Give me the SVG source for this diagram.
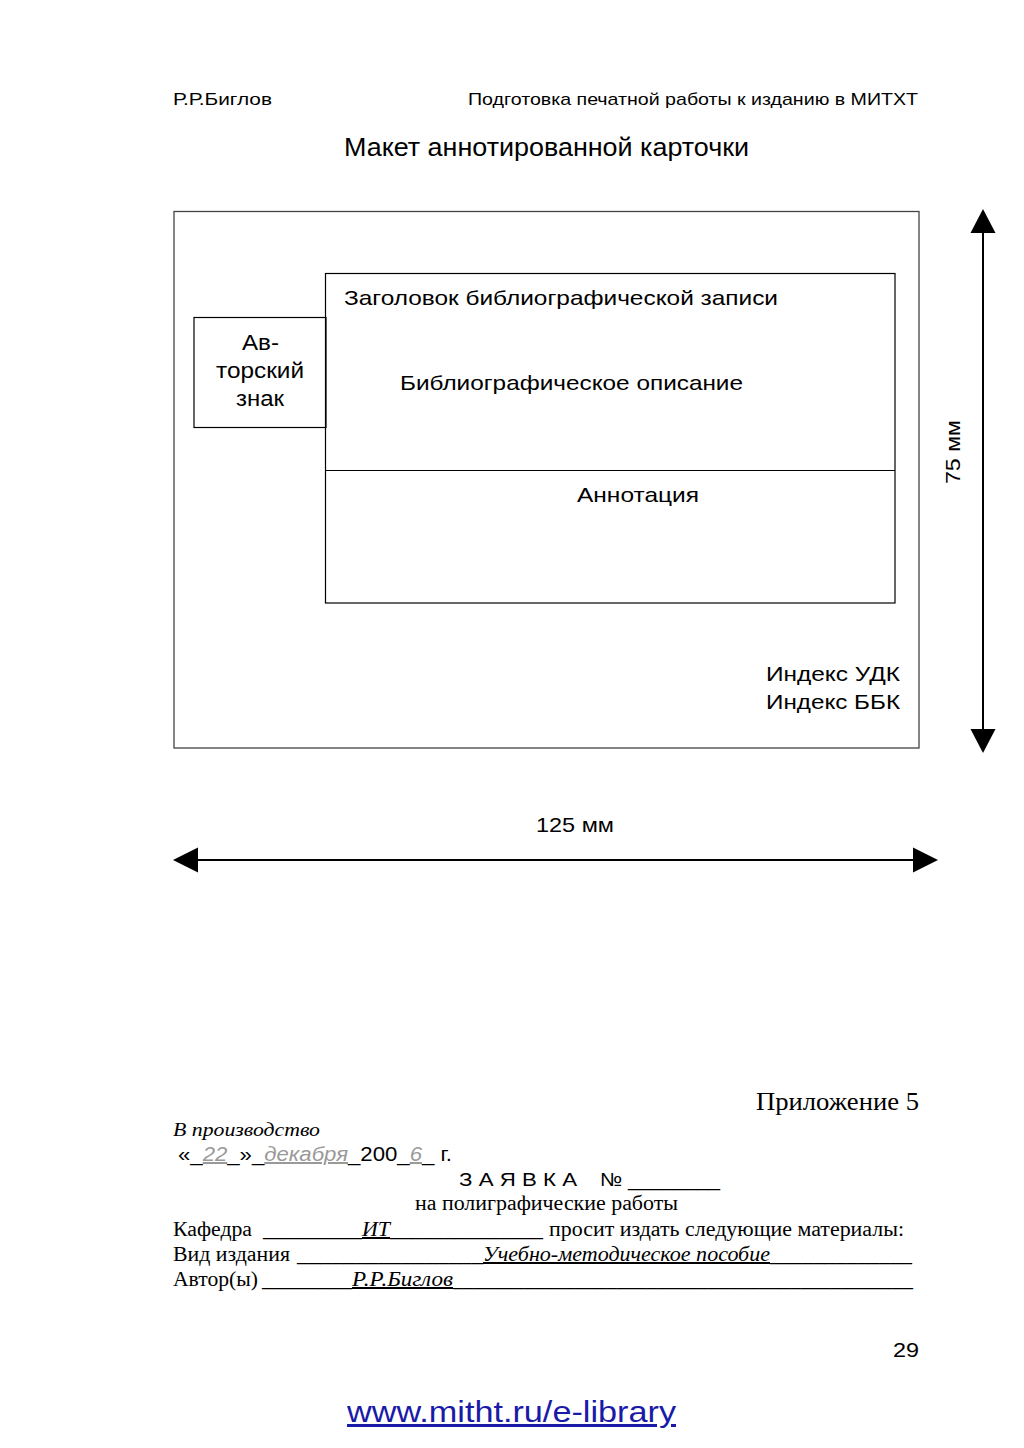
<svg xmlns="http://www.w3.org/2000/svg" width="1024" height="1448" viewBox="0 0 1024 1448">
<style>
.sans{font-family:"Liberation Sans",Arial,sans-serif;fill:#000}
.serif{font-family:"Liberation Serif","Times New Roman",serif;fill:#000;font-size:20px}
.box{fill:none;stroke:#000;stroke-width:1.2}
.outer{fill:none;stroke:#444;stroke-width:1.3}
.dim{stroke:#000;stroke-width:2;fill:none}
.gray{fill:#999;font-style:italic;text-decoration:underline}
.it{font-style:italic;text-decoration:underline}
</style>
<rect width="1024" height="1448" fill="#fff"/>
<g id="header">
<text class="sans" x="173" y="105" font-size="17" textLength="99" lengthAdjust="spacingAndGlyphs">Р.Р.Биглов</text>
<text class="sans" x="468" y="105" font-size="17" textLength="450" lengthAdjust="spacingAndGlyphs">Подготовка печатной работы к изданию в МИТХТ</text>
<text class="sans" x="344" y="156" font-size="25" textLength="405" lengthAdjust="spacingAndGlyphs">Макет аннотированной карточки</text>
</g>
<g id="card">
<rect class="outer" x="174" y="211.5" width="745" height="536.5"/>
</g>
<g id="record">
<rect class="box" x="325.5" y="273.5" width="569.5" height="329.5"/>
<line class="box" x1="325.5" y1="470.5" x2="895" y2="470.5"/>
<text class="sans" x="344" y="305" font-size="21" textLength="434" lengthAdjust="spacingAndGlyphs">Заголовок библиографической записи</text>
<text class="sans" x="400" y="390" font-size="21" textLength="343" lengthAdjust="spacingAndGlyphs">Библиографическое описание</text>
<text class="sans" x="577" y="502" font-size="21" textLength="122" lengthAdjust="spacingAndGlyphs">Аннотация</text>
</g>
<g id="author-sign">
<rect class="box" x="194" y="317.5" width="132" height="110"/>
<text class="sans" x="242" y="350" font-size="22" textLength="37" lengthAdjust="spacingAndGlyphs">Ав-</text>
<text class="sans" x="216" y="378" font-size="22" textLength="88" lengthAdjust="spacingAndGlyphs">торский</text>
<text class="sans" x="236" y="406" font-size="22" textLength="48" lengthAdjust="spacingAndGlyphs">знак</text>
</g>
<g id="index">
<text class="sans" x="766" y="681" font-size="21" textLength="134" lengthAdjust="spacingAndGlyphs">Индекс УДК</text>
<text class="sans" x="766" y="709" font-size="21" textLength="134" lengthAdjust="spacingAndGlyphs">Индекс ББК</text>
</g>
<g id="connectors">
<line class="dim" x1="983" y1="233" x2="983" y2="729"/>
<path d="M983,209 L970.5,233 L995.5,233 Z" fill="#000"/>
<path d="M983,753 L970.5,729 L995.5,729 Z" fill="#000"/>
<line class="dim" x1="198" y1="860" x2="913" y2="860"/>
<path d="M173,860 L198,847.5 L198,872.5 Z" fill="#000"/>
<path d="M938,860 L913,847.5 L913,872.5 Z" fill="#000"/>
<text class="sans" x="928" y="484" font-size="21" textLength="64" lengthAdjust="spacingAndGlyphs" transform="rotate(-90 960 484)" dx="0"><tspan x="960" y="484">75 мм</tspan></text>
<text class="sans" x="536" y="832" font-size="21" textLength="78" lengthAdjust="spacingAndGlyphs">125 мм</text>
</g>
<g id="form">
<text class="serif" x="756" y="1110" font-size="26" style="font-size:26px" textLength="163" lengthAdjust="spacingAndGlyphs">Приложение 5</text>
<text class="serif" x="173" y="1136" style="font-size:19px" font-style="italic" textLength="147" lengthAdjust="spacingAndGlyphs">В производство</text>
<text class="sans" x="178" y="1161" font-size="20" textLength="274" lengthAdjust="spacingAndGlyphs">«_<tspan class="gray">22</tspan>_»_<tspan class="gray">декабря</tspan>_200_<tspan class="gray">6</tspan>_ г.</text>
<text class="sans" x="459" y="1186" font-size="19" textLength="118" lengthAdjust="spacingAndGlyphs">З А Я В К А</text>
<text class="sans" x="600" y="1186" font-size="19" textLength="120" lengthAdjust="spacingAndGlyphs">№ ________</text>
<text class="serif" x="415" y="1210" textLength="263" lengthAdjust="spacingAndGlyphs">на полиграфические работы</text>
<text class="serif" x="173" y="1236" textLength="79" lengthAdjust="spacingAndGlyphs">Кафедра</text>
<text class="serif" x="263" y="1236" textLength="99" lengthAdjust="spacingAndGlyphs">_________</text>
<text class="serif it" x="362" y="1236" textLength="28" lengthAdjust="spacingAndGlyphs">ИТ</text>
<text class="serif" x="390" y="1236" textLength="153" lengthAdjust="spacingAndGlyphs">______________</text>
<text class="serif" x="549" y="1236" textLength="355" lengthAdjust="spacingAndGlyphs">просит издать следующие материалы:</text>
<text class="serif" x="173" y="1261" textLength="117" lengthAdjust="spacingAndGlyphs">Вид издания</text>
<text class="serif" x="297" y="1261" textLength="186" lengthAdjust="spacingAndGlyphs">________________</text>
<text class="serif it" x="483" y="1261" textLength="287" lengthAdjust="spacingAndGlyphs">Учебно-методическое пособие</text>
<text class="serif" x="770" y="1261" textLength="142" lengthAdjust="spacingAndGlyphs">_____________</text>
<text class="serif" x="173" y="1286" textLength="85" lengthAdjust="spacingAndGlyphs">Автор(ы)</text>
<text class="serif" x="262" y="1286" textLength="90" lengthAdjust="spacingAndGlyphs">________</text>
<text class="serif it" x="352" y="1286" textLength="101" lengthAdjust="spacingAndGlyphs">Р.Р.Биглов</text>
<text class="serif" x="453" y="1286" textLength="460" lengthAdjust="spacingAndGlyphs">_____________________________________________</text>
</g>
<g id="footer">
<text class="sans" x="893" y="1357" font-size="20" textLength="26" lengthAdjust="spacingAndGlyphs">29</text>
<text class="sans" x="347" y="1422" font-size="30" textLength="329" lengthAdjust="spacingAndGlyphs" style="fill:#1a1aa8;text-decoration:underline">www.mitht.ru/e-library</text>
</g>
</svg>
